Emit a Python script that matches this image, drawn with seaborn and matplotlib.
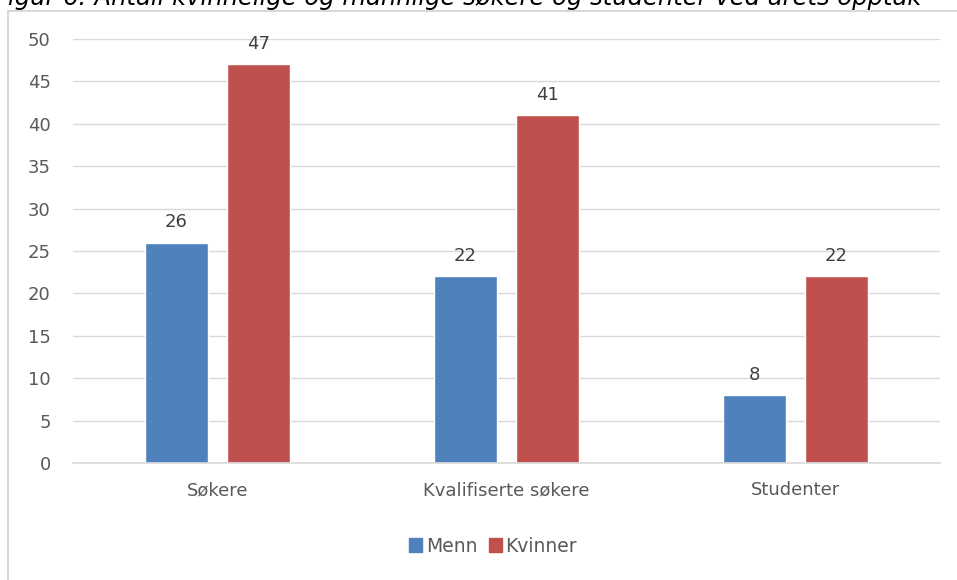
import pandas as pd
import matplotlib.pyplot as plt
import seaborn as sns
from matplotlib.patches import Rectangle

# data
categories = ['Søkere', 'Kvalifiserte søkere', 'Studenter']
menn = [26, 22, 8]
kvinner = [47, 41, 22]
groups = ['Menn', 'Kvinner']
colors = {'Menn': '#4F81BD', 'Kvinner': '#C0504D'}

df = pd.DataFrame({
    'Kategori': categories * 2,
    'Kjønn': ['Menn'] * 3 + ['Kvinner'] * 3,
    'Antall': menn + kvinner,
})

sns.set_theme(style='white')
plt.rcParams['font.family'] = ['DejaVu Sans']
text_col = '#595959'

fig = plt.figure(figsize=(9.57, 5.8), dpi=100)
ax = fig.add_axes([73 / 957, 1 - 463 / 580, (940 - 73) / 957, (463 - 39) / 580])

# ramme rundt diagrammet
fig.patches.append(Rectangle((8 / 957, -0.1), 1.2, 1 - 11 / 580 + 0.1,
                             transform=fig.transFigure, fill=False,
                             edgecolor='#D9D9D9', linewidth=1.5, zorder=0))

sns.barplot(data=df, x='Kategori', y='Antall', hue='Kjønn', order=categories,
            hue_order=groups, palette=colors, width=0.567, gap=0.22,
            saturation=1, ax=ax, legend=False)

for cont in ax.containers:
    ax.bar_label(cont, fmt='%d', padding=8, fontsize=13, color='#404040')

ax.set_ylim(0, 50)
ax.set_xlim(-0.5, 2.5)
ax.set_yticks(range(0, 51, 5))
ax.yaxis.grid(True, color='#D9D9D9', linewidth=1)
ax.set_axisbelow(True)
for s in ['top', 'right', 'left']:
    ax.spines[s].set_visible(False)
ax.spines['bottom'].set_color('#D9D9D9')
ax.spines['bottom'].set_linewidth(1.2)
ax.tick_params(axis='y', length=0, pad=16, labelsize=13, labelcolor=text_col)
ax.tick_params(axis='x', length=0, pad=13, labelsize=13, labelcolor=text_col)
ax.set_xlabel('')
ax.set_ylabel('')

# forklaring
handles = [Rectangle((0, 0), 1, 1, color=colors[g]) for g in groups]
fig.legend(handles, groups, loc='center', bbox_to_anchor=(493 / 957, 1 - 546 / 580),
           ncol=2, frameon=False, fontsize=13.5, labelcolor=text_col,
           handlelength=0.7, handleheight=0.85, handletextpad=0.2, columnspacing=0.6)

# tittel (delvis avkuttet i toppen, som i kilden)
fig.text(-0.006, 1 - 5 / 580, 'Figur 6: Antall kvinnelige og mannlige søkere og studenter ved årets opptak',
         fontsize=17.5, style='italic', color='#000000', ha='left', va='baseline')

fig.savefig('out.png', dpi=100)
